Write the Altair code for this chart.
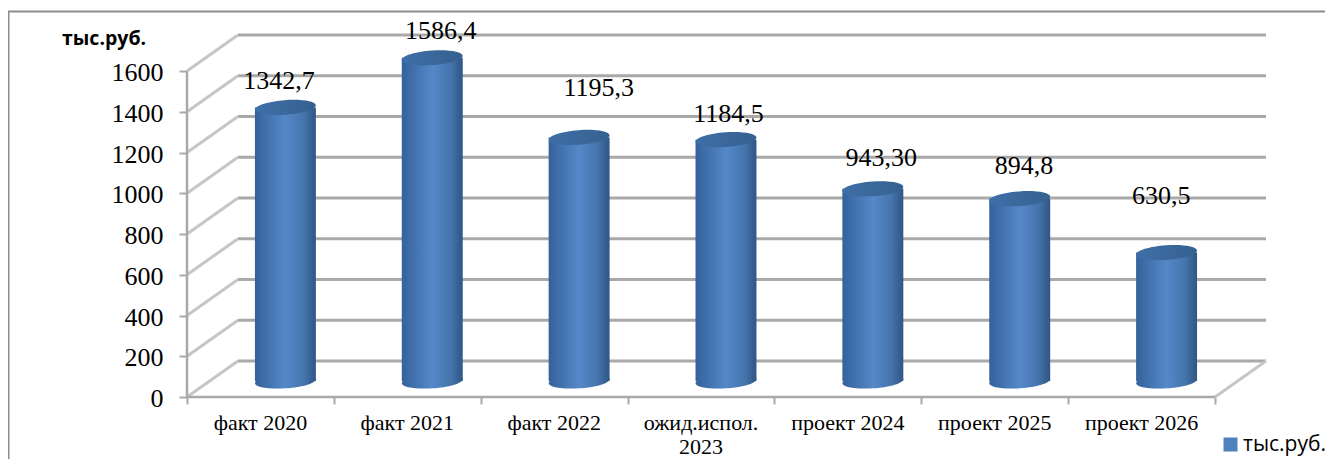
import altair as alt
import pandas as pd

categories = ["факт 2020", "факт 2021", "факт 2022", "ожид.испол.", "проект 2024", "проект 2025", "проект 2026"]
second_line = ["", "", "", "2023", "", "", ""]
values = [1342.7, 1586.4, 1195.3, 1184.5, 943.3, 894.8, 630.5]
value_labels = ["1342,7", "1586,4", "1195,3", "1184,5", "943,30", "894,8", "630,5"]
label_lift = [206, 211, 321, 205, 230, 239, 356]
label_shift = [0.126, 0.228, 0.303, 0.187, 0.228, 0.2, 0.133]
grid_values = [0, 200, 400, 600, 800, 1000, 1200, 1400, 1600]
series_name = "тыс.руб."

N = len(categories)
DEPTH_X, DEPTH_Y = 0.347, 176.7      # oblique shift of the back wall, in axis units
BAR_DX, BAR_BASE, BAR_HALF = 0.17, 78.5, 0.2075
GREY = "#a9a9a9"
LIGHT = "#c6c6c6"
x_scale = alt.Scale(domain=[0, N + DEPTH_X], nice=False, zero=False)
y_scale = alt.Scale(domain=[0, 1781.6], nice=False, zero=False)
x_axis = alt.Axis(values=list(range(N + 1)), labels=False, domain=False, grid=False,
                  tickColor=GREY, tickSize=7, tickWidth=2, title=None)
y_axis = alt.Axis(values=grid_values, domain=False, grid=False, tickColor=GREY, tickSize=8, tickWidth=2,
                  labelFont="Liberation Serif", labelFontSize=26, labelColor="#000000",
                  labelPadding=16, labelOffset=1.5, format="d", title=None)
X = lambda f: alt.X(f, type="quantitative", scale=x_scale, axis=x_axis)
Y = lambda f: alt.Y(f, type="quantitative", scale=y_scale, axis=y_axis)

bars = pd.DataFrame({
    "center": [i + 0.5 + BAR_DX for i in range(N)],
    "left": [i + 0.5 + BAR_DX - BAR_HALF for i in range(N)],
    "right": [i + 0.5 + BAR_DX + BAR_HALF for i in range(N)],
    "base": [BAR_BASE] * N,
    "top": [BAR_BASE + v for v in values],
    "label": value_labels,
    "label_x": [i + 0.5 + s for i, s in enumerate(label_shift)],
    "label_y": [v + l for v, l in zip(values, label_lift)],
    "cat": categories,
    "cat2": second_line,
    "cat_x": [i + 0.5 for i in range(N)],
    "zero": [0] * N,
})
grid = pd.DataFrame({
    "v": grid_values,
    "v_back": [g + DEPTH_Y for g in grid_values],
    "x0": [0.0] * len(grid_values),
    "x_back": [DEPTH_X] * len(grid_values),
    "x_end": [N + DEPTH_X] * len(grid_values),
})
floor_edge = pd.DataFrame({"x": [float(N)], "x2": [N + DEPTH_X], "y": [0.0], "y2": [DEPTH_Y]})
front = pd.DataFrame({"x": [0.0], "x2": [float(N)], "y": [0.0], "y2": [0.0]})
left_wall = pd.DataFrame({"x": [0.0], "y": [0.0], "y2": [1600.0]})

body = alt.Gradient(gradient="linear", x1=0, x2=1, y1=0, y2=0, stops=[
    alt.GradientStop(offset=0, color="#34629a"),
    alt.GradientStop(offset=0.5, color="#5588c9"),
    alt.GradientStop(offset=0.8, color="#4674ad"),
    alt.GradientStop(offset=1, color="#2f5684"),
])
cap = alt.Gradient(gradient="linear", x1=0, x2=1, y1=0, y2=0, stops=[
    alt.GradientStop(offset=0, color="#3f6fa8"),
    alt.GradientStop(offset=1, color="#35618f"),
])
ELLIPSE = "M-1,0 A1,0.24 0 1 1 1,0 A1,0.24 0 1 1 -1,0 Z"

frame_top = alt.Chart(front).mark_rule(color="#8c8c8c", strokeWidth=2).encode(
    x=alt.value(-179), x2=alt.value(1138), y=alt.value(-22.5))
frame_left = alt.Chart(front).mark_rule(color="#8c8c8c", strokeWidth=2).encode(
    x=alt.value(-178.5), y=alt.value(-23), y2=alt.value(425))

back_lines = alt.Chart(grid).mark_rule(color=GREY, strokeWidth=3).encode(
    x=X("x_back"), x2="x_end", y=Y("v_back"), y2="v_back")
diag_lines = alt.Chart(grid).mark_rule(color=LIGHT, strokeWidth=3).encode(
    x=X("x0"), x2="x_back", y=Y("v"), y2="v_back")
right_floor = alt.Chart(floor_edge).mark_rule(color=LIGHT, strokeWidth=3).encode(
    x=X("x"), x2="x2", y=Y("y"), y2="y2")
front_line = alt.Chart(front).mark_rule(color=GREY, strokeWidth=2.5).encode(
    x=X("x"), x2="x2", y=Y("y"), y2="y2")
wall_line = alt.Chart(left_wall).mark_rule(color=GREY, strokeWidth=2.5).encode(
    x=X("x"), y=Y("y"), y2="y2")

bar_bottom = alt.Chart(bars).mark_point(
    shape=ELLIPSE, size=3721, filled=True, fill=body, opacity=1, strokeWidth=0, angle=356
).encode(x=X("center"), y=Y("base"))
bar_body = alt.Chart(bars).mark_rect(fill=body, strokeWidth=0).encode(
    x=X("left"), x2="right", y=Y("base"), y2="top")
bar_top = alt.Chart(bars).mark_point(
    shape=ELLIPSE, size=3721, filled=True, fill=cap, opacity=1, strokeWidth=0, angle=356
).encode(x=X("center"), y=Y("top"))

data_labels = alt.Chart(bars).mark_text(
    font="Liberation Serif", fontSize=26, color="#000000", baseline="middle"
).encode(x=X("label_x"), y=Y("label_y"), text="label:N")
cat_labels = alt.Chart(bars).mark_text(
    font="Liberation Serif", fontSize=22, color="#000000", baseline="middle", dy=26
).encode(x=X("cat_x"), y=Y("zero"), text="cat:N")
cat_labels2 = alt.Chart(bars).mark_text(
    font="Liberation Serif", fontSize=22, color="#000000", baseline="middle", dy=50
).encode(x=X("cat_x"), y=Y("zero"), text="cat2:N")

unit_title = alt.Chart(front).mark_text(
    text=series_name, font="Open Sans", fontWeight="bold", fontSize=19.5, color="#000000",
    align="left", baseline="middle"
).encode(x=alt.value(-125), y=alt.value(5))

legend_layer = alt.Chart(front).mark_square(size=0).encode(
    color=alt.Color("name:N", scale=alt.Scale(range=["#4f81bd"]), legend=alt.Legend(
        orient="none", legendX=1033, legendY=400, title=None, symbolType="square",
        symbolSize=196, symbolStrokeWidth=0, symbolOpacity=1, labelFont="Open Sans",
        labelFontSize=21, labelColor="#000000", labelOffset=2, padding=0))
).transform_calculate(name="'" + series_name + "'")

chart = alt.layer(
    frame_top, frame_left, back_lines, diag_lines, right_floor, wall_line, front_line,
    bar_bottom, bar_body, bar_top, data_labels, cat_labels, cat_labels2, unit_title, legend_layer,
).properties(
    width=1079, height=363, background="#ffffff",
    padding={"left": 179, "top": 26, "right": 59, "bottom": 62},
    autosize=alt.AutoSizeParams(type="none"),
).configure_view(stroke=None)

chart.save("out.html", embed_options={"renderer": "svg", "actions": False})
